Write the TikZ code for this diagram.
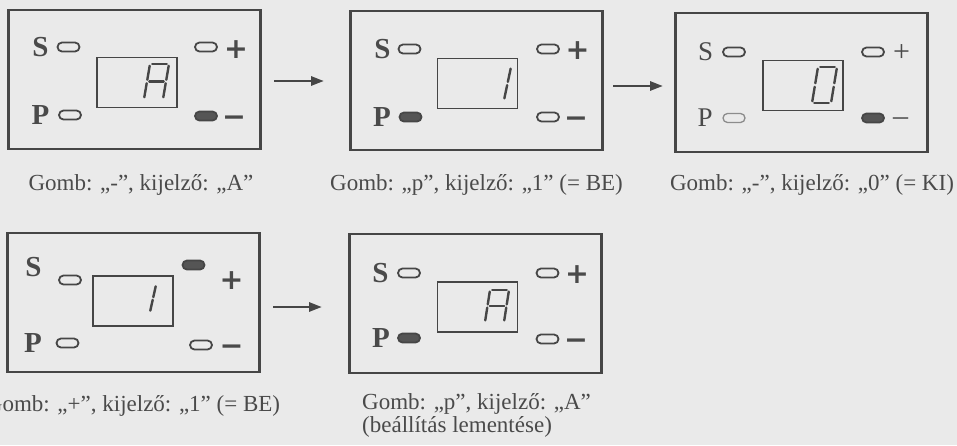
\documentclass[tikz,border=0pt]{standalone}
\usepackage{fontspec}
\setmainfont{Liberation Serif}
\newfontfamily\symf{DejaVu Sans}
\usetikzlibrary{arrows.meta}
\definecolor{bg}{RGB}{234,234,234}
\definecolor{ink}{RGB}{70,70,70}
\definecolor{txt}{RGB}{74,74,74}
\definecolor{fillp}{RGB}{85,85,85}
\definecolor{faint}{RGB}{140,140,140}
\tikzset{
 panel/.style={draw=ink, line width=2.2pt, inner sep=0pt, minimum width=252pt, minimum height=139pt},
 disp/.style={draw=ink, line width=1.6pt, inner sep=0pt, minimum width=80pt, minimum height=50pt},
 pill/.style={draw=ink, fill=bg, line width=1.8pt, rounded corners=4.5pt, minimum width=22pt, minimum height=9pt, inner sep=0pt},
 pillon/.style={pill, fill=fillp},
 lbl/.style={text=txt, inner sep=0pt, font=\fontsize{29}{32}\selectfont\bfseries},
 lblthin/.style={text=txt, inner sep=0pt, font=\fontsize{27}{30}\selectfont},
 sgn/.style={text=txt, inner sep=0pt, text height=20.5pt, text depth=0pt, font=\symf\fontsize{28.5}{32}\selectfont\bfseries},
 sgnthin/.style={text=txt, inner sep=0pt, text height=15pt, text depth=0pt, font=\fontsize{30}{32}\selectfont},
 capt/.style={text=txt, inner sep=0pt, anchor=base, font=\fontsize{23}{26}\selectfont},
 seg/.style={draw=ink, line width=2.4pt, line cap=round},
 arr/.style={draw=ink, line width=2.8pt, -{Triangle[length=13pt,width=9pt]}},
}
\newcommand\sgA{\draw[seg] (0.12,2) -- (0.88,2);}
\newcommand\sgB{\draw[seg] (1,1.9) -- (1,1.1);}
\newcommand\sgC{\draw[seg] (1,0.9) -- (1,0.1);}
\newcommand\sgD{\draw[seg] (0.12,0) -- (0.88,0);}
\newcommand\sgE{\draw[seg] (0,0.1) -- (0,0.9);}
\newcommand\sgF{\draw[seg] (0,1.1) -- (0,1.9);}
\newcommand\sgG{\draw[seg] (0.12,1) -- (0.88,1);}
\begin{document}
\begin{tikzpicture}[x=1pt,y=-1pt]
\useasboundingbox (0,0) rectangle (957,445);
\fill[bg] (0,0) rectangle (957,445);

% ---------- panel 1
\node[panel] (p1) at (134.5,79.5) {};
\node[disp] (d1) at (137,82.5) {};
\node[lbl] (s1) at (40.5,47) {S};
\node[pill] (s1b) at (68.5,47) {};
\node[pill] (pl1b) at (206,47) {};
\node[sgn] (pl1) at (236,48) {+};
\node[lbl] (pp1) at (40.5,115) {P};
\node[pill] (pp1b) at (70,115) {};
\node[pillon] (mi1b) at (206,116) {};
\node[sgn] (mi1) at (234,116) {−};
\begin{scope}[shift={(144,99)}, x={(19pt,0pt)}, y={(3pt,17.5pt)}]
\sgA\sgB\sgC\sgE\sgF\sgG
\end{scope}
\node[capt] (c1) at (141,190) {Gomb: „-”, kijelző: „A”};

% ---------- panel 2
\node[panel] (p2) at (476.5,80.5) {};
\node[disp] (d2) at (477.5,83.5) {};
\node[lbl] (s2) at (382.5,49) {S};
\node[pill] (s2b) at (409.5,49) {};
\node[pill] (pl2b) at (548,49) {};
\node[sgn] (pl2) at (577.5,49) {+};
\node[lbl] (pp2) at (382,117) {P};
\node[pillon] (pp2b) at (410.5,117) {};
\node[pill] (mi2b) at (548,117) {};
\node[sgn] (mi2) at (576,117) {−};
\begin{scope}[shift={(485,100)}, x={(19pt,0pt)}, y={(3.5pt,16.5pt)}]
\sgB\sgC
\end{scope}
\node[capt] (c2) at (476.5,190) {Gomb: „p”, kijelző: „1” (= BE)};

% ---------- panel 3
\node[panel] (p3) at (801.5,82.5) {};
\node[disp] (d3) at (803,85.5) {};
\node[lblthin] (s3) at (705.5,52) {S};
\node[pill] (s3b) at (734,52) {};
\node[pill] (pl3b) at (873,52) {};
\node[sgnthin, text height=19pt] (pl3) at (901.5,52) {+};
\node[lblthin] (pp3) at (705,118) {P};
\node[pill, draw=faint, line width=1.3pt] (pp3b) at (734,118) {};
\node[pillon] (mi3b) at (873,118) {};
\node[sgnthin] (mi3) at (900.5,118) {–};
\begin{scope}[shift={(812,103)}, x={(19pt,0pt)}, y={(3pt,18pt)}]
\sgA\sgB\sgC\sgD\sgE\sgF
\end{scope}
\node[capt] (c3) at (812,190) {Gomb: „-”, kijelző: „0” (= KI)};

% ---------- panel 4
\node[panel] (p4) at (133.5,302.5) {};
\node[disp] (d4) at (133,301) {};
\node[lbl] (s4) at (33.5,267) {S};
\node[pill] (s4b) at (70,280) {};
\node[pillon] (pl4b) at (193.5,265) {};
\node[sgn] (pl4) at (231.5,279) {+};
\node[lbl] (pp4) at (33,343) {P};
\node[pill] (pp4b) at (67.5,343) {};
\node[pill] (mi4b) at (201,345) {};
\node[sgn] (mi4) at (231.5,345) {−};
\begin{scope}[shift={(131,312)}, x={(19pt,0pt)}, y={(3pt,13.5pt)}]
\sgB\sgC
\end{scope}
\node[capt] (c4) at (133,411) {Gomb: „+”, kijelző: „1” (= BE)};

% ---------- panel 5
\node[panel] (p5) at (475.5,303.5) {};
\node[disp] (d5) at (477.5,307) {};
\node[lbl] (s5) at (380.5,273) {S};
\node[pill] (s5b) at (409,273) {};
\node[pill] (pl5b) at (547.5,273) {};
\node[sgn] (pl5) at (577,273) {+};
\node[lbl] (pp5) at (381,338) {P};
\node[pillon] (pp5b) at (409,338) {};
\node[pill] (mi5b) at (547.5,339) {};
\node[sgn] (mi5) at (576,339) {−};
\begin{scope}[shift={(485,322)}, x={(19pt,0pt)}, y={(2.5pt,16pt)}]
\sgA\sgB\sgC\sgE\sgF\sgG
\end{scope}
\node[text=txt, inner sep=0pt, anchor=north west, align=left, font=\fontsize{23}{23}\selectfont] (c5) at (362,393) {Gomb: „p”, kijelző: „A”\\(beállítás lementése)};

% ---------- arrows
\coordinate (a1s) at (274,81);
\coordinate (a1e) at (324,81);
\coordinate (a2s) at (613,86);
\coordinate (a2e) at (663,86);
\coordinate (a3s) at (273,307);
\coordinate (a3e) at (322,307);
\draw[arr] (a1s) -- (a1e);
\draw[arr] (a2s) -- (a2e);
\draw[arr] (a3s) -- (a3e);
\end{tikzpicture}
\end{document}
